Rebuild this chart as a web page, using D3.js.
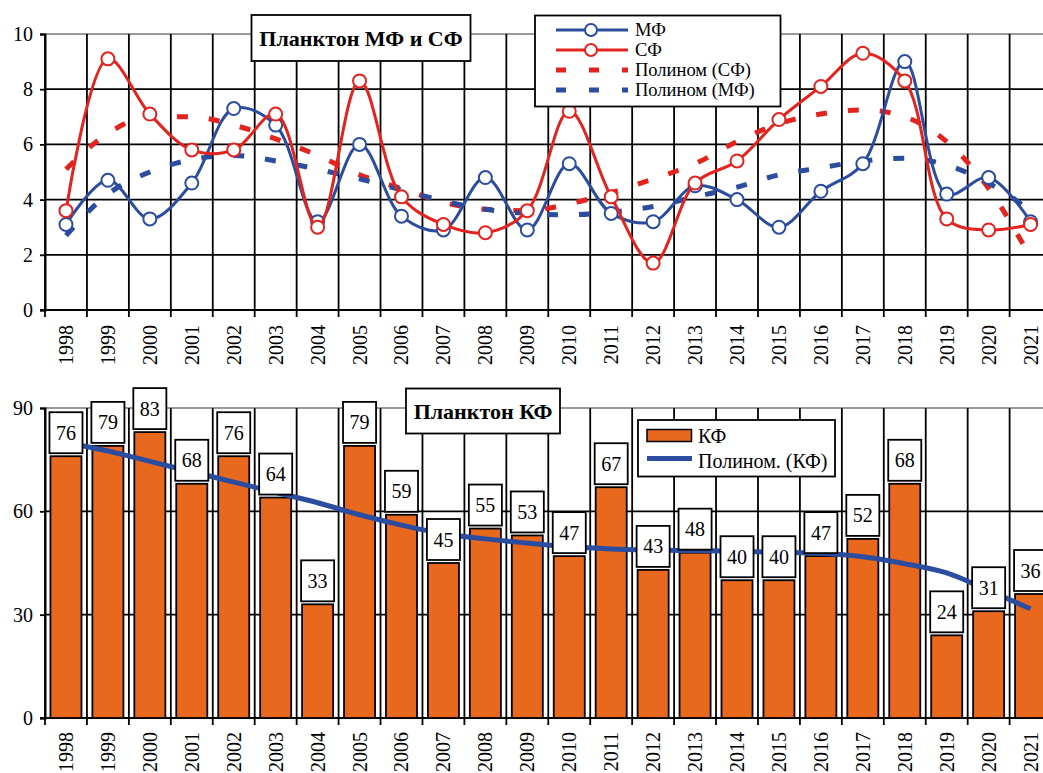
<!DOCTYPE html>
<html><head><meta charset="utf-8">
<script src="https://cdn.jsdelivr.net/npm/d3@7/dist/d3.min.js"></script>
<style>body{margin:0;background:#fff}svg{display:block}svg text{font-family:"Liberation Serif","Times New Roman","DejaVu Serif",serif !important}</style>
</head><body><svg id="c" width="1043" height="773"></svg>
<script>
const years = ["1998","1999","2000","2001","2002","2003","2004","2005","2006","2007","2008","2009","2010","2011","2012","2013","2014","2015","2016","2017","2018","2019","2020","2021"];
const mf = [3.1,4.7,3.3,4.6,7.3,6.7,3.2,6.0,3.4,2.9,4.8,2.9,5.3,3.5,3.2,4.5,4.0,3.0,4.3,5.3,9.0,4.2,4.8,3.2];
const sf = [3.6,9.1,7.1,5.8,5.8,7.1,3.0,8.3,4.1,3.1,2.8,3.6,7.2,4.1,1.7,4.6,5.4,6.9,8.1,9.3,8.3,3.3,2.9,3.1];
const sfPoly = [5.1,6.4,7.0,7.0,6.7,6.2,5.6,4.9,4.4,3.9,3.65,3.6,3.85,4.25,4.75,5.3,6.1,6.75,7.1,7.25,7.0,6.1,4.4,1.9];
const mfPoly = [2.7,4.2,5.0,5.45,5.6,5.4,5.1,4.75,4.35,3.95,3.65,3.5,3.45,3.55,3.75,4.1,4.45,4.9,5.15,5.4,5.5,5.25,4.6,3.6];
const kf = [76,79,83,68,76,64,33,79,59,45,55,53,47,67,43,48,40,40,47,52,68,24,31,36];
const kfPoly = [80,77.5,74.5,71.5,68.5,65.5,62.5,59,56,53.5,52,50.8,49.7,49.1,48.8,48.6,48.4,48.1,47.8,46.8,44.8,42.1,37,31.7];
const topTicks = [0,2,4,6,8,10];
const botTicks = [0,30,60,90];
const topLegend = ["МФ","СФ","Полином (СФ)","Полином (МФ)"];
const botLegend = ["КФ","Полином. (КФ)"];

const BLUE = "#2b4c9f", RED = "#e4231f", ORANGE = "#e8691e";
const SERIF = "Liberation Serif";
const svg = d3.select("#c");
const W = 1043;

const x = d3.scaleBand().domain(years).range([45, 45 + 24 * 41.94]).padding(0);
const xb = d3.scaleBand().domain(years).range([45, 45 + 24 * 41.94]).paddingInner(0.26).paddingOuter(0.13);
const cx = d => x(d) + x.bandwidth() / 2;

function frame(y, yTicks, top, bottom, labelY) {
  const g = svg.append("g");
  yTicks.forEach((t, i) => {
    if (t === 0) return;
    g.append("line").attr("x1", 45).attr("x2", W).attr("y1", y(t)).attr("y2", y(t))
      .attr("stroke", i === yTicks.length - 1 ? "#9a9a9a" : "#000").attr("stroke-width", 1.8);
  });
  const bounds = years.map(d => x(d)).concat([x.range()[1]]);
  bounds.forEach(b => {
    g.append("line").attr("x1", b).attr("x2", b).attr("y1", top).attr("y2", bottom + 7)
      .attr("stroke", "#000").attr("stroke-width", 1.8);
  });
  g.append("line").attr("x1", 40).attr("x2", W).attr("y1", bottom).attr("y2", bottom)
    .attr("stroke", "#000").attr("stroke-width", 2);
  const ax = svg.append("g").attr("transform", "translate(45,0)")
    .call(d3.axisLeft(y).tickValues(yTicks).tickSize(5).tickPadding(7))
    .attr("font-family", SERIF).attr("font-size", 20);
  ax.select(".domain").attr("stroke", "#000").attr("stroke-width", 2);
  ax.selectAll(".tick line").attr("stroke", "#000").attr("stroke-width", 1.8);
  ax.selectAll("text").attr("fill", "#000");
  svg.append("g").selectAll("text").data(years).join("text")
    .attr("transform", d => `translate(${cx(d)},${labelY}) rotate(-90)`)
    .attr("text-anchor", "end").attr("dy", "0.35em")
    .attr("font-family", SERIF).attr("font-size", 20).text(d => d);
}

// ---------- TOP CHART ----------
const yT = d3.scaleLinear().domain([0, 10]).range([310, 34]);
frame(yT, topTicks, 34, 310, 325);

const line = d3.line().x((d, i) => cx(years[i])).y(d => yT(d)).curve(d3.curveCatmullRom.alpha(0.5));
const trend = d3.line().x((d, i) => cx(years[i])).y(d => yT(d)).curve(d3.curveMonotoneX);

svg.append("path").attr("d", trend(sfPoly)).attr("fill", "none").attr("stroke", RED)
  .attr("stroke-width", 5).attr("stroke-dasharray", "11,21");
svg.append("path").attr("d", trend(mfPoly)).attr("fill", "none").attr("stroke", BLUE)
  .attr("stroke-width", 5).attr("stroke-dasharray", "11,21");

[[mf, BLUE], [sf, RED]].forEach(([data, col]) => {
  svg.append("path").attr("d", line(data)).attr("fill", "none").attr("stroke", col).attr("stroke-width", 3);
  svg.append("g").selectAll("circle").data(data).join("circle")
    .attr("cx", (d, i) => cx(years[i])).attr("cy", d => yT(d)).attr("r", 6.5)
    .attr("fill", "#fff").attr("stroke", col).attr("stroke-width", 2);
});

svg.append("rect").attr("x", 251.5).attr("y", 15).attr("width", 219).attr("height", 46)
  .attr("fill", "#fff").attr("stroke", "#000").attr("stroke-width", 1.8);
svg.append("text").attr("x", 361).attr("y", 38).attr("dy", "0.35em").attr("text-anchor", "middle")
  .attr("font-family", SERIF).attr("font-weight", "bold").attr("font-size", 22).text("Планктон МФ и СФ");

svg.append("rect").attr("x", 535).attr("y", 15.5).attr("width", 245.5).attr("height", 91)
  .attr("fill", "#fff").attr("stroke", "#000").attr("stroke-width", 1.8);
const legY = [30, 50, 70, 90];
topLegend.forEach((t, i) => {
  const col = (i === 0 || i === 3) ? BLUE : RED;
  const ln = svg.append("line").attr("x1", 556).attr("x2", 628).attr("y1", legY[i]).attr("y2", legY[i]).attr("stroke", col);
  if (i < 2) {
    ln.attr("stroke-width", 3);
    svg.append("circle").attr("cx", 591).attr("cy", legY[i]).attr("r", 6)
      .attr("fill", "#fff").attr("stroke", col).attr("stroke-width", 2);
  } else {
    ln.attr("stroke-width", 5).attr("stroke-dasharray", "10,23");
  }
  svg.append("text").attr("x", 635).attr("y", legY[i]).attr("dy", "0.35em")
    .attr("font-family", SERIF).attr("font-size", 18.5).text(t);
});

// ---------- BOTTOM CHART ----------
const yB = d3.scaleLinear().domain([0, 90]).range([718, 408]);
frame(yB, botTicks, 408, 718, 732);

svg.append("g").selectAll("rect").data(kf).join("rect")
  .attr("x", (d, i) => xb(years[i])).attr("width", xb.bandwidth())
  .attr("y", d => yB(d)).attr("height", d => 718 - yB(d))
  .attr("fill", ORANGE).attr("stroke", "#000").attr("stroke-width", 1.8);

const trendB = d3.line().x((d, i) => cx(years[i])).y(d => yB(d)).curve(d3.curveMonotoneX);
svg.append("path").attr("d", trendB(kfPoly)).attr("fill", "none").attr("stroke", BLUE).attr("stroke-width", 5);

const lab = svg.append("g").selectAll("g").data(kf).join("g");
lab.append("rect")
  .attr("x", (d, i) => xb(years[i]) - 1).attr("width", xb.bandwidth() + 2)
  .attr("y", d => yB(d) - 44).attr("height", 41)
  .attr("fill", "#fff").attr("stroke", "#000").attr("stroke-width", 1.8);
lab.append("text")
  .attr("x", (d, i) => cx(years[i])).attr("y", d => yB(d) - 23.5).attr("dy", "0.35em")
  .attr("text-anchor", "middle").attr("font-family", SERIF).attr("font-size", 20).text(d => d);

svg.append("rect").attr("x", 406).attr("y", 388.5).attr("width", 154).attr("height", 45)
  .attr("fill", "#fff").attr("stroke", "#000").attr("stroke-width", 1.8);
svg.append("text").attr("x", 483).attr("y", 411).attr("dy", "0.35em").attr("text-anchor", "middle")
  .attr("font-family", SERIF).attr("font-weight", "bold").attr("font-size", 22).text("Планктон КФ");

svg.append("rect").attr("x", 638).attr("y", 420).attr("width", 197).attr("height", 56.5)
  .attr("fill", "#fff").attr("stroke", "#000").attr("stroke-width", 1.8);
svg.append("rect").attr("x", 647).attr("y", 429.5).attr("width", 44.5).attr("height", 12)
  .attr("fill", ORANGE).attr("stroke", "#000").attr("stroke-width", 1.5);
svg.append("line").attr("x1", 647).attr("x2", 692).attr("y1", 458.5).attr("y2", 458.5)
  .attr("stroke", BLUE).attr("stroke-width", 5);
svg.append("text").attr("x", 698).attr("y", 436).attr("dy", "0.35em")
  .attr("font-family", SERIF).attr("font-size", 20).text(botLegend[0]);
svg.append("text").attr("x", 698).attr("y", 461).attr("dy", "0.35em")
  .attr("font-family", SERIF).attr("font-size", 20).text(botLegend[1]);
</script></body></html>
